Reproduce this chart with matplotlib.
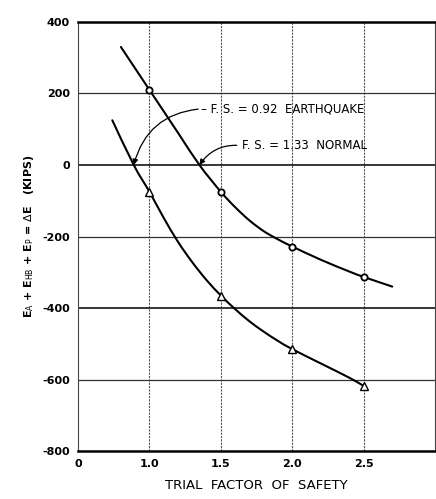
import matplotlib
matplotlib.use("Agg")
import matplotlib.pyplot as plt
from matplotlib.path import Path
from matplotlib.patches import PathPatch

# Data
# Computed trial points
fs_points = [1.0, 1.5, 2.0, 2.5]
normal_points = [210, -75, -228, -313]       # circles (F.S. = 1.33 normal)
quake_points = [-75, -365, -515, -618]       # triangles (F.S. = 0.92 earthquake)

# Traced drawn curves
normal_curve_x = [0.80, 1.0, 1.2, 1.35, 1.5, 1.6, 1.7, 1.8, 1.9, 2.0, 2.2, 2.4, 2.5, 2.7]
normal_curve_y = [330, 210, 90, 0, -75, -118, -155, -185, -208, -228, -265, -298, -313, -340]
quake_curve_x = [0.74, 0.89, 1.0, 1.1, 1.2, 1.3, 1.4, 1.5, 1.6, 1.7, 1.8, 1.9, 2.0, 2.2, 2.4, 2.5]
quake_curve_y = [125, 0, -75, -148, -215, -272, -322, -365, -403, -437, -466, -492, -515, -555, -595, -618]

x_ticks = [0.5, 1.0, 1.5, 2.0, 2.5, 3.0]
x_tick_labels = ["0", "1.0", "1.5", "2.0", "2.5", ""]
y_ticks = [400, 200, 0, -200, -400, -600, -800]
y_tick_labels = ["400", "200", "0", "-200", "-400", "-600", "-800"]

quake_label = "– F. S. = 0.92  EARTHQUAKE"
normal_label = "F. S. = 1.33  NORMAL"
quake_crossing = 0.89
normal_crossing = 1.35

plt.rcParams['font.family'] = ['DejaVu Sans']
fig = plt.figure(figsize=(4.36, 4.99), dpi=100)
ax = fig.add_axes([0.179, 0.096, 0.819, 0.860])

ax.set_xlim(0.5, 3.0)
ax.set_ylim(-800, 400)


def smooth_path(xs, ys):
    """Catmull-Rom through the traced points, as cubic Bezier segments."""
    pts = list(zip(xs, ys))
    verts = [pts[0]]
    codes = [Path.MOVETO]
    n = len(pts)
    for i in range(n - 1):
        p0 = pts[i - 1] if i > 0 else pts[i]
        p1 = pts[i]
        p2 = pts[i + 1]
        p3 = pts[i + 2] if i + 2 < n else pts[i + 1]
        c1 = (p1[0] + (p2[0] - p0[0]) / 6.0, p1[1] + (p2[1] - p0[1]) / 6.0)
        c2 = (p2[0] - (p3[0] - p1[0]) / 6.0, p2[1] - (p3[1] - p1[1]) / 6.0)
        verts += [c1, c2, p2]
        codes += [Path.CURVE4] * 3
    return Path(verts, codes)


# grid
for xv in x_ticks[1:-1]:
    ax.axvline(xv, color="#555555", lw=0.8, ls=(0, (2, 1)), zorder=1)
for yv in y_ticks[1:-1]:
    if yv in (0, -400):
        ax.axhline(yv, color="black", lw=1.1, zorder=1)
    else:
        ax.axhline(yv, color="#333333", lw=0.9, zorder=1)

for cx, cy in ((normal_curve_x, normal_curve_y), (quake_curve_x, quake_curve_y)):
    ax.add_patch(PathPatch(smooth_path(cx, cy), fill=False, edgecolor="black",
                           lw=1.5, zorder=3, capstyle="round"))

ax.plot(fs_points, normal_points, ls="none", marker="o", ms=4.5, mfc="white",
        mec="black", mew=1.3, zorder=4)
ax.plot(fs_points, quake_points, ls="none", marker="^", ms=5.5, mfc="white",
        mec="black", mew=1.0, zorder=4)

ax.set_xticks(x_ticks)
ax.set_xticklabels(x_tick_labels)
ax.set_yticks(y_ticks)
ax.set_yticklabels(y_tick_labels)
ax.tick_params(length=0, labelsize=8, pad=6)
for lab in ax.get_xticklabels() + ax.get_yticklabels():
    lab.set_fontweight("bold")

for side in ("top", "bottom"):
    ax.spines[side].set_linewidth(1.8)
for side in ("left", "right"):
    ax.spines[side].set_linewidth(0.8)
    ax.spines[side].set_color("#444444")

ax.set_xlabel("TRIAL  FACTOR  OF  SAFETY", fontsize=9.5, labelpad=7)
ax.set_ylabel(r"E$_\mathrm{A}$ + E$_\mathrm{HB}$ + E$_\mathrm{P}$ = $\Delta$E   (KIPS)",
              fontsize=8, fontweight="bold", labelpad=4)

ax.annotate(quake_label, xy=(quake_crossing, 0), xytext=(1.36, 157),
            fontsize=8.5, va="center", ha="left",
            arrowprops=dict(arrowstyle="-|>", color="black", lw=0.9,
                            connectionstyle="arc3,rad=0.35", shrinkA=0, shrinkB=0,
                            mutation_scale=8, relpos=(0, 0.5)))
ax.annotate(normal_label, xy=(normal_crossing, 0), xytext=(1.65, 54),
            fontsize=8.5, va="center", ha="left",
            arrowprops=dict(arrowstyle="-|>", color="black", lw=0.9,
                            connectionstyle="arc3,rad=0.3", shrinkA=2, shrinkB=0,
                            mutation_scale=8, relpos=(0, 0.5)))

fig.savefig("out.png", dpi=100)
